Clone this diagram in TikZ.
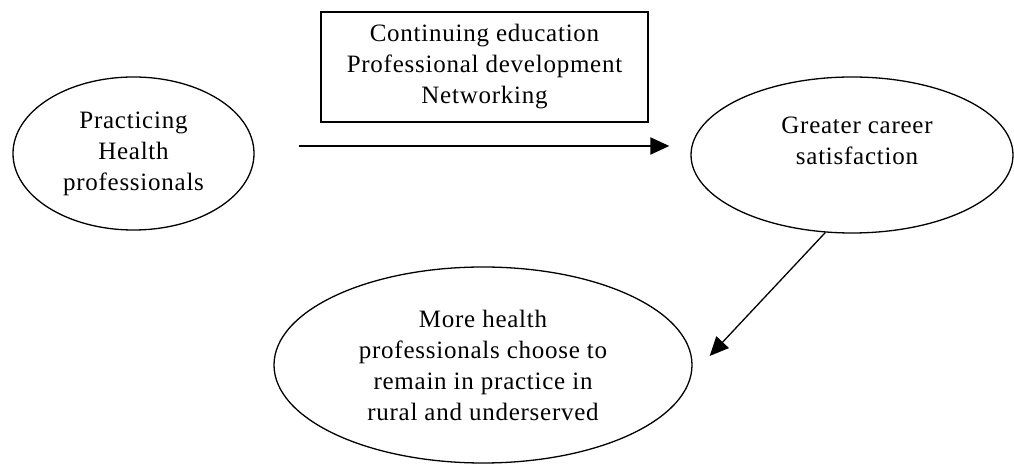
\documentclass[tikz,border=0pt]{standalone}
\usepackage{fontspec}
\setmainfont[LetterSpace=3]{Liberation Serif}
\usetikzlibrary{arrows.meta,shapes.geometric}

\begin{document}
\begin{tikzpicture}[x=1pt,y=1pt,line width=1.3pt,
    txt/.style={align=center,font=\fontsize{25}{31}\selectfont},
    oval/.style={txt,draw,ellipse,inner sep=0pt},
    infobox/.style={txt,draw,rectangle,line width=2pt},
    flow/.style={-{Triangle[length=19pt,width=17pt]}}]
    \useasboundingbox (0,0) rectangle (1014,465);
    \node[oval,minimum width=241pt,minimum height=153pt] (prac) at (133.5,311.5) {Practicing\\Health\\professionals};
    \node[infobox,minimum width=327pt,minimum height=110pt] (acts) at (484.5,398) {Continuing education\\Professional development\\Networking};
    \node[oval,minimum width=322pt,minimum height=156pt] (sat) at (852,310) {};
    \node[txt] (sattext) at (857,324) {Greater career\\satisfaction};
    \node[oval,minimum width=418pt,minimum height=196pt] (remain) at (483,100) {More health\\professionals choose to\\remain in practice in\\rural and underserved};
    \coordinate (from) at ([xshift=44pt,yshift=7.5pt]prac.east);
    \coordinate (to) at ([xshift=-21pt,yshift=9pt]sat.west);
    \coordinate (tip) at ([xshift=17pt,yshift=9pt]remain.east);
    \draw[flow,line width=2pt] (from) -- (to);
    \draw[flow] (sat.251) -- (tip);
  \end{tikzpicture}
\end{document}
